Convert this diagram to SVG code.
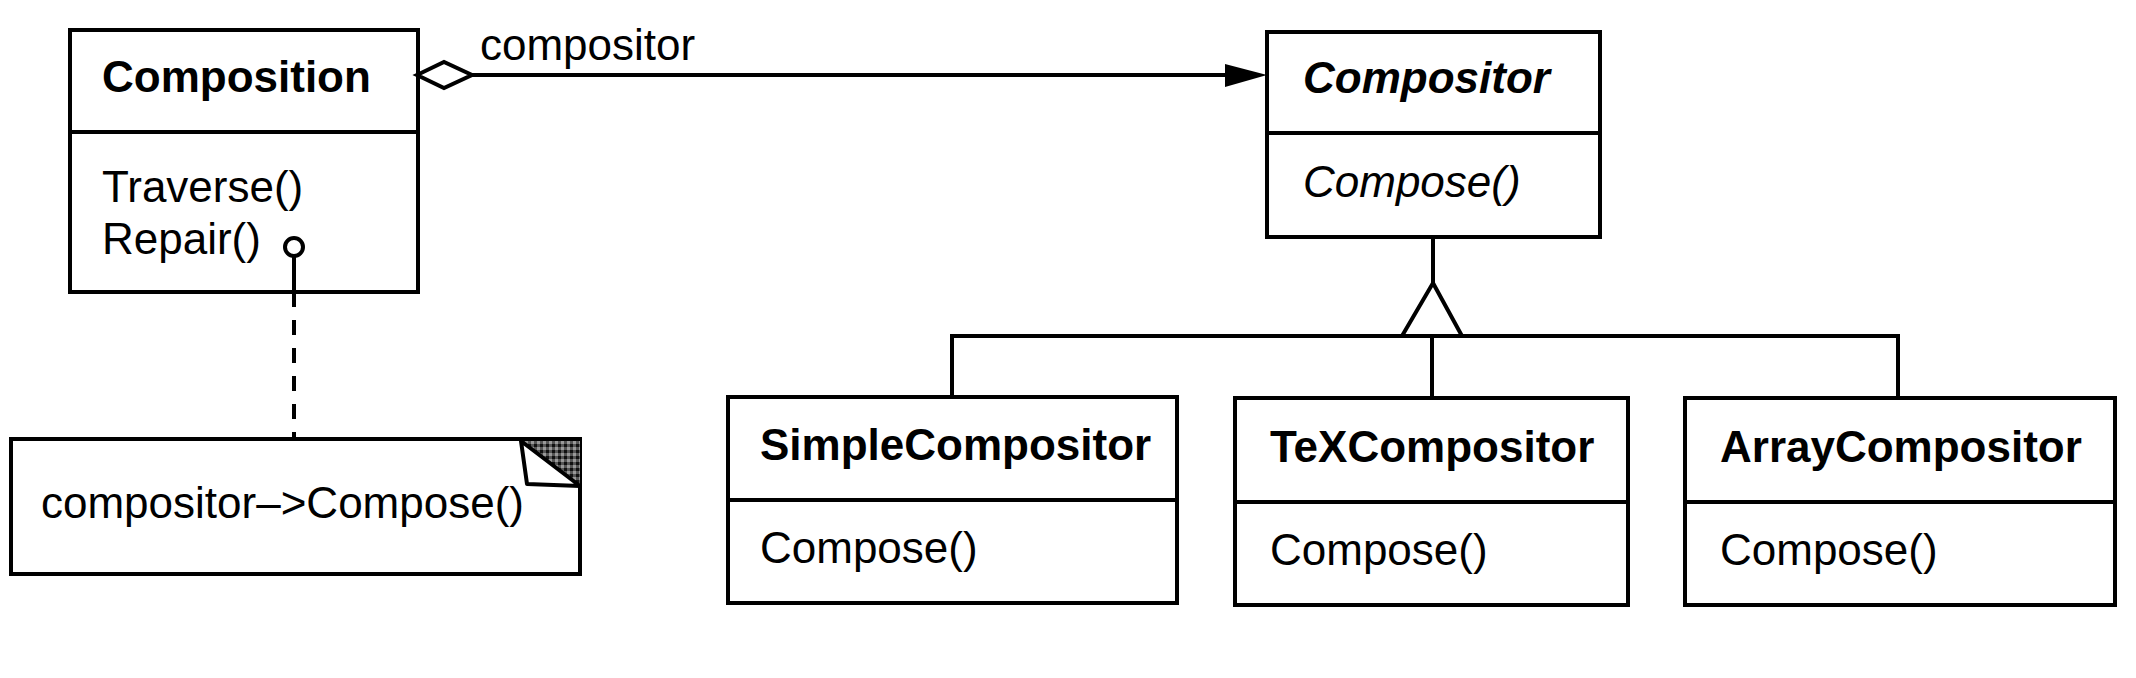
<svg xmlns="http://www.w3.org/2000/svg" width="2136" height="678" viewBox="0 0 2136 678">
<style>
.box{fill:#fff;stroke:#000;stroke-width:4}
.div{stroke:#000;stroke-width:4}
.ln{fill:none;stroke:#000;stroke-width:4}
.t{font-family:"Liberation Sans",Arial,sans-serif;font-size:44px;fill:#000}
.b{font-weight:bold}
.i{font-style:italic}
</style>
<defs>
<pattern id="hatch" width="6" height="6" patternUnits="userSpaceOnUse">
<rect width="6" height="6" fill="#555"/>
<rect x="0" y="0" width="3" height="3" fill="#111"/>
<rect x="3" y="3" width="3" height="3" fill="#999"/>
</pattern>
</defs>
<rect width="2136" height="678" fill="#fff"/>

<g id="composition">
<rect class="box" x="70" y="30" width="348" height="262"/>
<line class="div" x1="70" y1="132" x2="418" y2="132"/>
<text class="t b" x="102" y="92">Composition</text>
<text class="t" x="102" y="202">Traverse()</text>
<text class="t" x="102" y="254">Repair()</text>
</g>

<g id="note">
<rect class="box" x="11" y="439" width="569" height="135"/>
<polygon points="521,441 580,441 580,486" fill="url(#hatch)"/>
<polygon points="521,441 527,484 580,486" fill="#fff" stroke="#000" stroke-width="4" stroke-linejoin="round"/>
<text class="t" x="41" y="518">compositor–&gt;Compose()</text>
</g>

<g id="compositor">
<rect class="box" x="1267" y="32" width="333" height="205"/>
<line class="div" x1="1267" y1="133" x2="1600" y2="133"/>
<text class="t b i" x="1303" y="93">Compositor</text>
<text class="t i" x="1303" y="197">Compose()</text>
</g>

<g id="simplecompositor">
<rect class="box" x="728" y="397" width="449" height="206"/>
<line class="div" x1="728" y1="500" x2="1177" y2="500"/>
<text class="t b" x="760" y="460">SimpleCompositor</text>
<text class="t" x="760" y="563">Compose()</text>
</g>

<g id="texcompositor">
<rect class="box" x="1235" y="398" width="393" height="207"/>
<line class="div" x1="1235" y1="502" x2="1628" y2="502"/>
<text class="t b" x="1270" y="462">TeXCompositor</text>
<text class="t" x="1270" y="565">Compose()</text>
</g>

<g id="arraycompositor">
<rect class="box" x="1685" y="398" width="430" height="207"/>
<line class="div" x1="1685" y1="502" x2="2115" y2="502"/>
<text class="t b" x="1720" y="462">ArrayCompositor</text>
<text class="t" x="1720" y="565">Compose()</text>
</g>

<g id="connectors">
<line class="ln" x1="472" y1="75" x2="1228" y2="75"/>
<polygon points="417,75 444,62 472,75 444,88" fill="#fff" stroke="#000" stroke-width="4"/>
<polygon points="1225,64 1267,75 1225,87" fill="#000"/>
<text class="t" x="480" y="60">compositor</text>
<line class="ln" x1="294" y1="257" x2="294" y2="292"/>
<circle cx="294" cy="247" r="9" fill="#fff" stroke="#000" stroke-width="4"/>
<line class="ln" x1="294" y1="292" x2="294" y2="438" stroke-dasharray="15 13"/>
<line class="ln" x1="1433" y1="237" x2="1433" y2="283"/>
<polygon points="1433,283 1462,336 1402,336" fill="#fff" stroke="#000" stroke-width="4"/>
<line class="ln" x1="950" y1="336" x2="1900" y2="336"/>
<line class="ln" x1="952" y1="336" x2="952" y2="397"/>
<line class="ln" x1="1432" y1="336" x2="1432" y2="398"/>
<line class="ln" x1="1898" y1="336" x2="1898" y2="398"/>
</g>
</svg>
